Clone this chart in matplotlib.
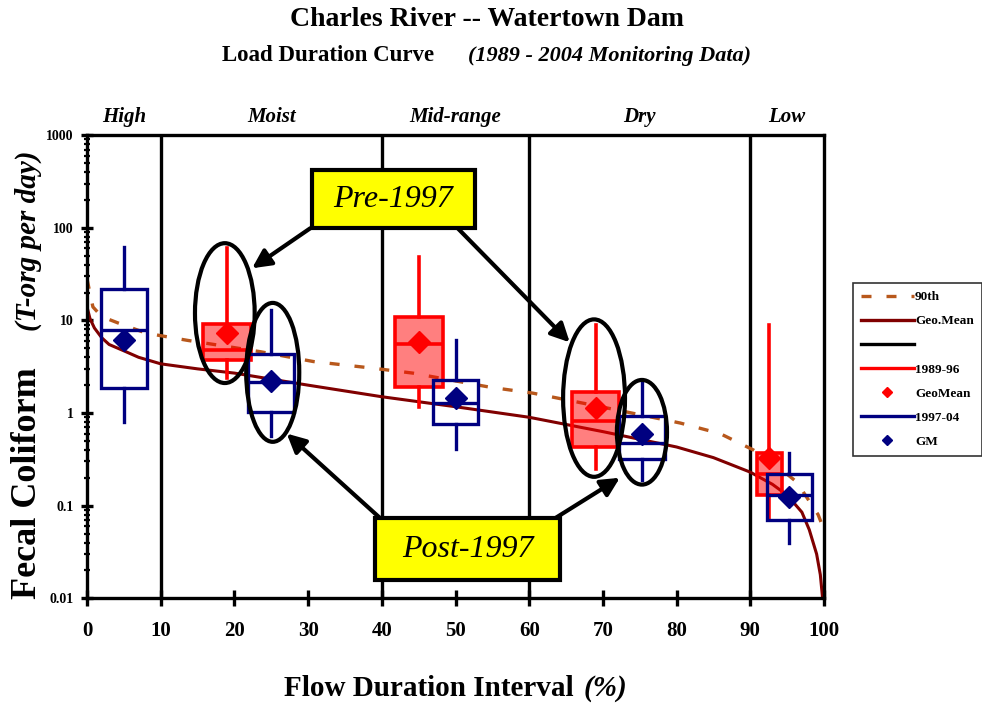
import numpy as np
import matplotlib.pyplot as plt
from matplotlib.lines import Line2D
from matplotlib.patches import Ellipse, Rectangle
from matplotlib.ticker import LogLocator, FixedLocator, FixedFormatter, NullFormatter

plt.rcParams['font.family'] = ['Liberation Serif', 'DejaVu Serif']
plt.rcParams['font.weight'] = 'bold'

# load duration curves (T-org per day vs flow duration %)
gm_x = [0, 0.4, 1, 2, 3, 5, 7, 10, 15, 20, 30, 40, 50, 60, 70, 80, 85, 90, 93, 95, 97, 98, 99, 99.5, 100]
gm_y = [14, 10.5, 8.3, 6.5, 5.5, 4.7, 4.0, 3.4, 3.0, 2.7, 2.0, 1.5, 1.17, 0.9, 0.63, 0.43, 0.33, 0.23, 0.17, 0.13, 0.085, 0.055, 0.03, 0.018, 0.007]
p90_x = [0, 0.8, 2, 4.2, 8, 13.6, 23.5, 30.7, 38.8, 44.2, 54.7, 60.5, 71.4, 80.5, 85.9, 90.4, 93.1, 96.3, 99.2, 100]
p90_y = [28, 14, 11, 9.4, 7.3, 6.1, 4.6, 3.6, 3.05, 2.7, 1.9, 1.64, 1.1, 0.78, 0.6, 0.4, 0.29, 0.18, 0.08, 0.055]

# 1989-96 monitoring data
pre_pos = [19, 45, 69, 92.6]
pre_width = [6.5, 6.5, 6.4, 3.5]
pre_lo = [2.4, 1.16, 0.25, 0.07]
pre_q1 = [3.7, 1.9, 0.43, 0.13]
pre_med = [4.8, 5.5, 0.83, 0.22]
pre_q3 = [9.1, 10.8, 1.68, 0.37]
pre_hi = [60, 48, 8.9, 8.9]
pre_mean = [7.4, 5.9, 1.12, 0.33]

# 1997-04 monitoring data
post_pos = [5, 25, 50, 75.3, 95.3]
post_lo = [0.8, 0.57, 0.41, 0.19, 0.04]
post_q1 = [1.85, 1.02, 0.76, 0.32, 0.07]
post_med = [7.8, 2.15, 1.28, 0.48, 0.13]
post_q3 = [21.7, 4.3, 2.26, 0.93, 0.22]
post_hi = [62, 12.9, 6.1, 2.1, 0.37]
post_mean = [6.1, 2.2, 1.45, 0.6, 0.125]

zone_edges = [10, 40, 60, 90]
zone_names = ['High', 'Moist', 'Mid-range', 'Dry', 'Low']
zone_mid = [5, 25, 50, 75, 95]

xticks = list(range(0, 101, 10))
yticks = [0.01, 0.1, 1, 10, 100, 1000]
ytick_labels = ['0.01', '0.1', '1', '10', '100', '1000']


def stats(lo, q1, med, q3, hi, mean):
    return [dict(whislo=a, q1=b, med=c, q3=d, whishi=e, mean=f)
            for a, b, c, d, e, f in zip(lo, q1, med, q3, hi, mean)]


fig = plt.figure(figsize=(9.82, 7.08), dpi=100)
ax = fig.add_axes([0.0886, 0.155, 0.7505, 0.654])
ax.set_yscale('log')
ax.set_xlim(0, 100)
ax.set_ylim(0.01, 1000)

ax.plot(gm_x, gm_y, color='#800000', lw=2.2, zorder=2)
ax.plot(p90_x, p90_y, color='#b8581c', lw=2.4, dashes=(3, 4.5), zorder=2)

for xe in zone_edges:
    ax.axvline(xe, color='black', lw=2.4, zorder=1)

ax.bxp(stats(pre_lo, pre_q1, pre_med, pre_q3, pre_hi, pre_mean),
       positions=pre_pos, widths=pre_width, patch_artist=True,
       showcaps=False, showfliers=False, showmeans=True, manage_ticks=False,
       boxprops=dict(facecolor=(1, 0, 0, 0.5), edgecolor='#ff0000', lw=2.6),
       whiskerprops=dict(color='#ff0000', lw=2.6),
       medianprops=dict(color='#ff0000', lw=2.6),
       meanprops=dict(marker='D', markerfacecolor='#ff0000', markeredgecolor='#ff0000', markersize=11),
       zorder=3)

ax.bxp(stats(post_lo, post_q1, post_med, post_q3, post_hi, post_mean),
       positions=post_pos, widths=6.2, patch_artist=True,
       showcaps=False, showfliers=False, showmeans=True, manage_ticks=False,
       boxprops=dict(facecolor='none', edgecolor='#000080', lw=2.4),
       whiskerprops=dict(color='#000080', lw=2.4),
       medianprops=dict(color='#000080', lw=2.4),
       meanprops=dict(marker='D', markerfacecolor='#000080', markeredgecolor='#000080', markersize=11),
       zorder=4)

# highlight ellipses: centre (x %, y), width in %, height in decades
ellipses = [(18.7, 12, 8.1, 1.51), (25.2, 2.75, 7.2, 1.5),
            (68.8, 1.45, 8.4, 1.7), (75.3, 0.62, 6.8, 1.13)]
for ex, ey, ew, eh in ellipses:
    cx, cy = ax.transAxes.inverted().transform(ax.transData.transform((ex, ey)))
    ax.add_patch(Ellipse((cx, cy), ew / 100, eh / 5, transform=ax.transAxes,
                         fill=False, ec='black', lw=3, zorder=5))

arrow_kw = dict(arrowstyle='-|>', color='black', lw=3, mutation_scale=28,
                shrinkA=0, shrinkB=0)
arrows = [((30.3, 99), (22.4, 36.6)), ((50.3, 99), (65.5, 5.8)),
          ((39.8, 0.073), (27.1, 0.6)), ((63.5, 0.073), (72.3, 0.2))]
for start, tip in arrows:
    ax.annotate('', xy=tip, xytext=start, arrowprops=arrow_kw, zorder=6)

# callout boxes: (x0, x1) in %, (y0, y1) in data units
callouts = [('Pre-1997', (30.5, 52.6), (99, 419)),
            ('Post-1997', (39.1, 64.2), (0.0156, 0.073))]
for label, (x0, x1), (y0, y1) in callouts:
    ax.add_patch(Rectangle((x0, y0), x1 - x0, y1 - y0, fc='#ffff00', ec='black',
                           lw=3, zorder=7))
    ax.text((x0 + x1) / 2, np.sqrt(y0 * y1), label, ha='center', va='center',
            fontsize=23, style='italic', fontweight='normal', zorder=8)

for xm, name in zip(zone_mid, zone_names):
    ax.text(xm, 1.039, name, transform=ax.get_xaxis_transform(), ha='center',
            va='center', fontsize=15, style='italic')

for s in ax.spines.values():
    s.set_linewidth(2.4)
ax.xaxis.set_major_locator(FixedLocator(xticks))
ax.tick_params(axis='x', direction='inout', length=11, width=2.4, labelsize=15, pad=11)
ax.yaxis.set_major_locator(FixedLocator(yticks))
ax.yaxis.set_major_formatter(FixedFormatter(ytick_labels))
ax.yaxis.set_minor_locator(LogLocator(base=10, subs=np.arange(2, 10), numticks=20))
ax.yaxis.set_minor_formatter(NullFormatter())
ax.tick_params(axis='y', which='major', direction='inout', length=9, width=2.4, labelsize=10, pad=5)
ax.tick_params(axis='y', which='minor', direction='inout', length=5, width=1.6)

fig.text(0.496, 0.972, 'Charles River -- Watertown Dam', ha='center', va='center', fontsize=20)
fig.text(0.442, 0.921, 'Load Duration Curve', ha='right', va='center', fontsize=16.5)
fig.text(0.4766, 0.921, '(1989 - 2004 Monitoring Data)', ha='left', va='center',
         fontsize=16, style='italic')

fig.text(0.584, 0.028, 'Flow Duration Interval', ha='right', va='center', fontsize=21)
fig.text(0.594, 0.028, '(%)', ha='left', va='center', fontsize=21, style='italic')

fig.text(0.0285, 0.318, 'Fecal Coliform', ha='center', va='center', rotation=90, fontsize=26)
fig.text(0.0285, 0.66, '(T-org per day)', ha='center', va='center', rotation=90,
         fontsize=21, style='italic')

handles = [
    Line2D([], [], color='#b8581c', lw=2.4, dashes=(3, 4.5)),
    Line2D([], [], color='#800000', lw=2.4),
    Line2D([], [], color='black', lw=2.4),
    Line2D([], [], color='#ff0000', lw=2.4),
    Line2D([], [], color='#ff0000', ls='none', marker='D', markersize=5),
    Line2D([], [], color='#000080', lw=2.4),
    Line2D([], [], color='#000080', ls='none', marker='D', markersize=5),
]
labels = ['90th', 'Geo.Mean', '', '1989-96', 'GeoMean', '1997-04', 'GM']
leg = fig.legend(handles, labels, loc='upper left', bbox_to_anchor=(0.8686, 0.600),
                 frameon=True, fancybox=False, edgecolor='black', fontsize=9.5,
                 handlelength=4.0, handletextpad=0.1, labelspacing=0.9,
                 borderpad=0.6, borderaxespad=0)
leg.get_frame().set_linewidth(1.2)

fig.savefig('out.png', dpi=100)
